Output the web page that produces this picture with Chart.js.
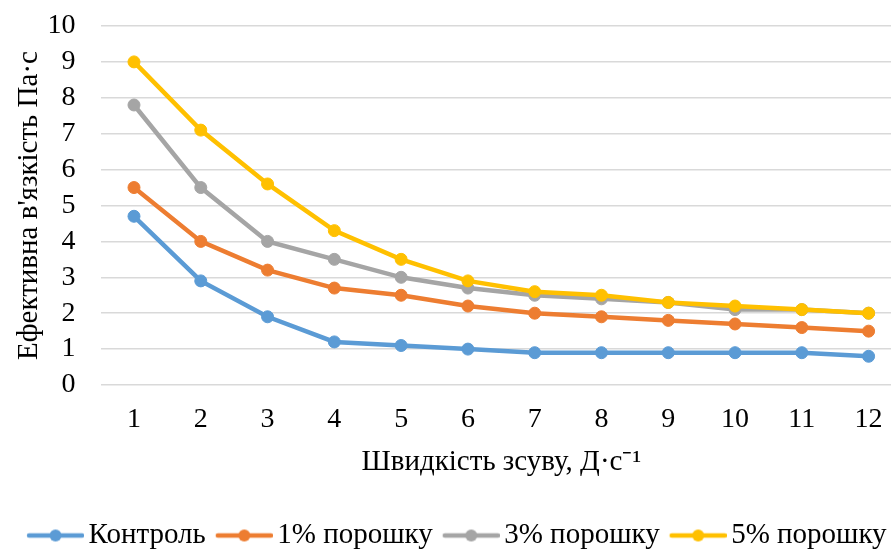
<!DOCTYPE html>
<html>
<head>
<meta charset="utf-8">
<script src="https://cdn.jsdelivr.net/npm/chart.js@4/dist/chart.umd.min.js"></script>
<style>
  html, body { margin: 0; padding: 0; background: #fff; overflow: hidden; }
  #wrap { width: 905px; height: 560px; }
</style>
</head>
<body>
<div id="wrap"><canvas id="c"></canvas></div>
<script>
// Shear rate steps and effective viscosity for each sample
const categories = ['1', '2', '3', '4', '5', '6', '7', '8', '9', '10', '11', '12'];
const seriesNames = ['Контроль', '1% порошку', '3% порошку', '5% порошку'];
const control = [4.7, 2.9, 1.9, 1.2, 1.1, 1.0, 0.9, 0.9, 0.9, 0.9, 0.9, 0.8];
const powder1 = [5.5, 4.0, 3.2, 2.7, 2.5, 2.2, 2.0, 1.9, 1.8, 1.7, 1.6, 1.5];
const powder3 = [7.8, 5.5, 4.0, 3.5, 3.0, 2.7, 2.5, 2.4, 2.3, 2.1, 2.1, 2.0];
const powder5 = [9.0, 7.1, 5.6, 4.3, 3.5, 2.9, 2.6, 2.5, 2.3, 2.2, 2.1, 2.0];
const yTicks = [0, 1, 2, 3, 4, 5, 6, 7, 8, 9, 10];

const colors = ['#5B9BD5', '#ED7D31', '#A5A5A5', '#FFC000'];
const FONT = "'Liberation Serif', 'Times New Roman', serif";
const TICK_SIZE = 28;
const TEXT_SIZE = 29;
const CLEAR = 'rgba(0,0,0,0)';

// Legend swatch: a short line with a dot in the middle
function swatch(color) {
  const w = 67, h = 14, lineLen = 57;
  const cv = document.createElement('canvas');
  cv.width = w; cv.height = h;
  const g = cv.getContext('2d');
  const x0 = w - lineLen;
  g.strokeStyle = color;
  g.lineWidth = 4.5;
  g.lineCap = 'round';
  g.beginPath();
  g.moveTo(x0 + 2, h / 2);
  g.lineTo(w - 2, h / 2);
  g.stroke();
  g.fillStyle = color;
  g.beginPath();
  g.arc(x0 + lineLen / 2, h / 2, 6, 0, Math.PI * 2);
  g.fill();
  return cv;
}

const seriesData = [control, powder1, powder3, powder5];
const datasets = seriesData.map((d, i) => ({
  label: seriesNames[i],
  data: d,
  borderColor: colors[i],
  backgroundColor: colors[i],
  borderWidth: 4.5,
  pointRadius: 6,
  pointHoverRadius: 6,
  pointBorderWidth: 1,
  pointBackgroundColor: colors[i],
  pointBorderColor: colors[i],
  tension: 0,
  order: seriesData.length - 1 - i
}));

const swatches = colors.map(swatch);

new Chart(document.getElementById('c'), {
  type: 'line',
  data: { labels: categories, datasets },
  options: {
    responsive: true,
    maintainAspectRatio: false,
    animation: false,
    layout: { autoPadding: false, padding: { left: 11.6, right: 3, top: 0, bottom: 0 } },
    scales: {
      x: {
        offset: true,
        grid: { display: false, drawTicks: true, tickLength: 16, tickColor: CLEAR },
        border: { display: false },
        ticks: {
          color: '#000',
          padding: 2,
          maxRotation: 0,
          font: { family: FONT, size: TICK_SIZE }
        },
        title: {
          display: true,
          text: 'Швидкість зсуву, Д·с⁻¹',
          color: '#000',
          padding: { top: 6.6, bottom: 31 },
          font: { family: FONT, size: TEXT_SIZE }
        }
      },
      y: {
        min: 0,
        max: 10,
        afterBuildTicks: (axis) => { axis.ticks = yTicks.map(v => ({ value: v })); },
        grid: { color: '#D9D9D9', lineWidth: 1.5, drawTicks: true, tickLength: 15.8, tickColor: CLEAR },
        border: { display: false },
        ticks: {
          color: '#000',
          padding: 9.2,
          autoSkip: false,
          font: { family: FONT, size: TICK_SIZE }
        },
        title: {
          display: true,
          text: "Ефективна в'язкість Па·с",
          color: '#000',
          padding: { top: 0, bottom: -8 },
          font: { family: FONT, size: TEXT_SIZE }
        }
      }
    },
    plugins: {
      tooltip: { enabled: false },
      legend: {
        position: 'bottom',
        labels: {
          color: '#000',
          font: { family: FONT, size: TEXT_SIZE },
          usePointStyle: true,
          pointStyleWidth: 47,
          padding: 10,
          generateLabels: (chart) => chart.data.datasets.map((ds, i) => ({
            text: ds.label,
            fillStyle: ds.borderColor,
            strokeStyle: ds.borderColor,
            lineWidth: 0,
            pointStyle: swatches[i],
            datasetIndex: i,
            hidden: false
          }))
        }
      }
    }
  }
});
</script>
</body>
</html>
